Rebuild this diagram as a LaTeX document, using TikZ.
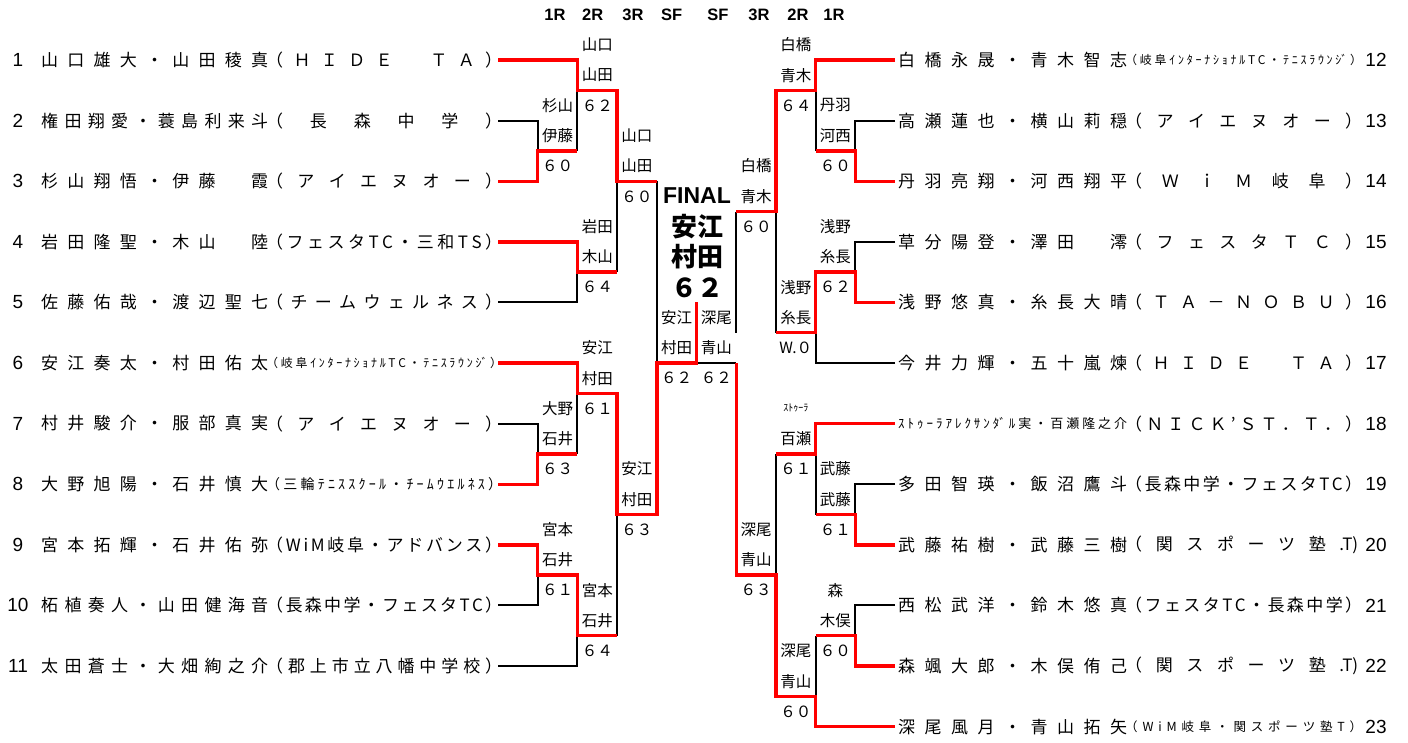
\documentclass[tikz,border=0pt]{standalone}
\usepackage{fontspec}
\setmainfont{Liberation Sans}
\newfontfamily\jp{Noto Sans CJK JP}
\makeatletter
\def\sp@loop#1{\ifx\relax#1\else\hfill#1\expandafter\sp@loop\fi}
\def\sp@first#1{#1\sp@loop}
\newcommand\spreadbox[2]{\hbox to #1{\sp@first#2\relax}}
\makeatother
\def\colA{498}\def\colB{537.7}\def\colC{577.4}\def\colD{617.1}\def\colE{656.8}
\def\colF{696.5}\def\colG{736.2}\def\colH{775.9}\def\colI{815.6}\def\colJ{855.3}\def\colK{895}
\newcommand\mlab[6]{%
  \node[lbl] (#1a) at (#2,#3-1.5) {#4};
  \node[lbl] (#1b) at (#2,#3-0.5) {#5};
  \node[lbl] (#1c) at (#2,#3+0.5) {#6};}
\newcommand\lrow[5]{%
  \node[numtxt] (num#1) at (18,#2) {#3};
  \node[nm] (nm#1) at (41,#2) {\spreadbox{227pt}{#4}};
  \node[nm] (cl#1) at (266,#2) {#5};}
\newcommand\rrow[5]{%
  \node[numtxt] (num#1) at (1376,#2) {#3};
  \node[nm] (nm#1) at (898,#2) {\spreadbox{229pt}{#4}};
  \node[nm] (cl#1) at (1125,#2) {#5};}
\begin{document}
\begin{tikzpicture}[x=1pt,y=-30.3pt,
  wl/.style={line width=2pt,black},
  rl/.style={line width=3.4pt,red},
  nm/.style={anchor=west,inner sep=0pt,font=\jp\fontsize{17}{18}\selectfont},
  lbl/.style={inner sep=0pt,font=\jp\fontsize{15.5}{17}\selectfont},
  numtxt/.style={inner sep=0pt,font=\fontsize{19}{20}\selectfont},
  hdr/.style={inner sep=0pt,font=\bfseries\fontsize{16.5}{17}\selectfont},
  fin/.style={inner sep=0pt,font=\bfseries\fontsize{23}{24}\selectfont},
  finj/.style={inner sep=0pt,font=\jp\bfseries\fontsize{26}{28}\selectfont}]
\useasboundingbox (0,-1.9802) rectangle (1408,22.5083);
% headers
\node[hdr] (h1) at (555,-1.485) {1R};
\node[hdr] (h2) at (592.7,-1.485) {2R};
\node[hdr] (h3) at (633,-1.485) {3R};
\node[hdr] (h4) at (671.7,-1.485) {SF};
\node[hdr] (h5) at (718,-1.485) {SF};
\node[hdr] (h6) at (759,-1.485) {3R};
\node[hdr] (h7) at (798,-1.485) {2R};
\node[hdr] (h8) at (834,-1.485) {1R};
% final
\node[fin] (fn) at (697,4.49) {FINAL};
\node[finj] (fa) at (697,5.5) {安江};
\node[finj] (fb) at (697,6.5) {村田};
\node[finj] (fc) at (697,7.52) {６２};
% black lines
\draw[wl] (\colA,2) -| (\colB,3);
\draw[wl] (\colA,8) -| (\colC,7);
\draw[wl] (\colA,12) -| (\colB,13);
\draw[wl] (\colA,18) -| (\colB,17);
\draw[wl] (\colA,20) -| (\colC,19);
\draw[wl] (\colC,3) -- (\colC,1);
\draw[wl] (\colD,7) -- (\colD,4);
\draw[wl] (\colC,13) -- (\colC,11);
\draw[wl] (\colD,19) -- (\colD,15);
\draw[wl] (\colE,4) -- (\colE,10);
\draw[wl] (\colK,2) -| (\colJ,3);
\draw[wl] (\colI,3) -- (\colI,1);
\draw[wl] (\colK,6) -| (\colJ,7);
\draw[wl] (\colK,10) -| (\colI,9);
\draw[wl] (\colH,9) -- (\colH,5);
\draw[wl] (\colG,5) -- (\colG,9);
\draw[wl] (\colG,10) -- (\colF,10);
\draw[wl] (\colK,14) -| (\colJ,15);
\draw[wl] (\colI,15) -- (\colI,13);
\draw[wl] (\colH,13) -- (\colH,17);
\draw[wl] (\colK,18) -| (\colJ,19);
\draw[wl] (\colI,19) -- (\colI,21);
% red lines
\draw[rl] (\colA,0) -| (\colC,1) -| (\colD,4) -- (\colE,4);
\draw[rl] (\colA,4) -| (\colB,3) -- (\colC,3);
\draw[rl] (\colA,6) -| (\colC,7) -- (\colD,7);
\draw[rl] (\colA,10) -| (\colC,11) -| (\colD,15) -| (\colE,10) -| (\colF,8);
\draw[rl] (\colA,14) -| (\colB,13) -- (\colC,13);
\draw[rl] (\colA,16) -| (\colB,17) -| (\colC,19) -- (\colD,19);
\draw[rl] (\colK,0) -| (\colI,1) -| (\colH,5) -- (\colG,5);
\draw[rl] (\colK,4) -| (\colJ,3) -- (\colI,3);
\draw[rl] (\colK,8) -| (\colJ,7) -| (\colI,9) -- (\colH,9);
\draw[rl] (\colK,12) -| (\colI,13) -- (\colH,13);
\draw[rl] (\colK,16) -| (\colJ,15) -- (\colI,15);
\draw[rl] (\colK,20) -| (\colJ,19) -- (\colI,19);
\draw[rl] (\colK,22) -| (\colI,21) -| (\colH,17) -| (\colG,10);
% match labels
\mlab{A}{557.55}{3}{杉山}{伊藤}{６０}
\mlab{B}{597.25}{1}{山口}{山田}{６２}
\mlab{C}{597.25}{7}{岩田}{木山}{６４}
\mlab{D}{636.95}{4}{山口}{山田}{６０}
\mlab{E}{557.55}{13}{大野}{石井}{６３}
\mlab{F}{597.25}{11}{安江}{村田}{６１}
\mlab{G}{557.55}{17}{宮本}{石井}{６１}
\mlab{H}{597.25}{19}{宮本}{石井}{６４}
\mlab{I}{636.95}{15}{安江}{村田}{６３}
\mlab{J}{676.65}{10}{安江}{村田}{６２}
\mlab{K}{795.75}{1}{白橋}{青木}{６４}
\mlab{L}{835.45}{3}{丹羽}{河西}{６０}
\mlab{M}{835.45}{7}{浅野}{糸長}{６２}
\mlab{N}{795.75}{9}{浅野}{糸長}{W.０}
\mlab{O}{756.05}{5}{白橋}{青木}{６０}
\mlab{P}{716.35}{10}{深尾}{青山}{６２}
\mlab{Q}{795.75}{13}{{\fontsize{10}{11}\selectfont ｽﾄｩｰﾗ}}{百瀬}{６１}
\mlab{R}{835.45}{15}{武藤}{武藤}{６１}
\mlab{S}{835.45}{19}{森}{木俣}{６０}
\mlab{T}{795.75}{21}{深尾}{青山}{６０}
\mlab{U}{756.05}{17}{深尾}{青山}{６３}
% left players
\lrow{1}{0}{1}{山口雄大・山田稜真}{\spreadbox{236pt}{（ＨＩＤＥ　ＴＡ）}}
\lrow{2}{2}{2}{権田翔愛・蓑島利来斗}{\spreadbox{236pt}{（　長　森　中　学　）}}
\lrow{3}{4}{3}{杉山翔悟・伊藤　霞}{\spreadbox{236pt}{（アイエヌオー）}}
\lrow{4}{6}{4}{岩田隆聖・木山　陸}{\spreadbox{236pt}{（フェスタTC・三和TS）}}
\lrow{5}{8}{5}{佐藤佑哉・渡辺聖七}{\spreadbox{236pt}{（チームウェルネス）}}
\lrow{6}{10}{6}{安江奏太・村田佑太}{\fontsize{12}{13}\selectfont\spreadbox{236pt}{（岐阜ｲﾝﾀｰﾅｼｮﾅﾙTC・ﾃﾆｽﾗｳﾝ{ｼﾞ}）}}
\lrow{7}{12}{7}{村井駿介・服部真実}{\spreadbox{236pt}{（アイエヌオー）}}
\lrow{8}{14}{8}{大野旭陽・石井慎大}{\fontsize{14}{15}\selectfont\spreadbox{236pt}{（三輪ﾃﾆｽｽｸｰﾙ・ﾁｰﾑｳｴﾙﾈｽ）}}
\lrow{9}{16}{9}{宮本拓輝・石井佑弥}{\spreadbox{236pt}{（WiM岐阜・アドバンス）}}
\lrow{10}{18}{10}{柘植奏人・山田健海音}{\spreadbox{236pt}{（長森中学・フェスタTC）}}
\lrow{11}{20}{11}{太田蒼士・大畑絢之介}{\spreadbox{236pt}{（郡上市立八幡中学校）}}
% right players
\rrow{12}{0}{12}{白橋永晟・青木智志}{\fontsize{12}{13}\selectfont\spreadbox{237pt}{（岐阜ｲﾝﾀｰﾅｼｮﾅﾙTC・ﾃﾆｽﾗｳﾝ{ｼﾞ}）}}
\rrow{13}{2}{13}{高瀬蓮也・横山莉穏}{\spreadbox{237pt}{（アイエヌオー）}}
\rrow{14}{4}{14}{丹羽亮翔・河西翔平}{\spreadbox{237pt}{（ＷｉＭ岐阜）}}
\rrow{15}{6}{15}{草分陽登・澤田　澪}{\spreadbox{237pt}{（フェスタＴＣ）}}
\rrow{16}{8}{16}{浅野悠真・糸長大晴}{\spreadbox{237pt}{（ＴＡ－ＮＯＢＵ）}}
\rrow{17}{10}{17}{今井力輝・五十嵐煉}{\spreadbox{237pt}{（ＨＩＤＥ　ＴＡ）}}
\node[numtxt] (num18) at (1376,12) {18};
\node[nm] (nm18) at (898,12) {\fontsize{13}{14}\selectfont\spreadbox{229pt}{ｽﾄｩｰﾗｱﾚｸｻﾝ{ﾀﾞ}ﾙ実・百瀬隆之介}};
\node[nm] (cl18) at (1125,12) {\spreadbox{237pt}{（ＮＩＣＫ’ＳＴ．Ｔ．）}};
\rrow{19}{14}{19}{多田智瑛・飯沼鷹斗}{\spreadbox{237pt}{（長森中学・フェスタTC）}}
\rrow{20}{16}{20}{武藤祐樹・武藤三樹}{\spreadbox{233pt}{（関スポーツ塾{.T)}}}
\rrow{21}{18}{21}{西松武洋・鈴木悠真}{\spreadbox{237pt}{（フェスタTC・長森中学）}}
\rrow{22}{20}{22}{森颯大郎・木俣侑己}{\spreadbox{233pt}{（関スポーツ塾{.T)}}}
\rrow{23}{22}{23}{深尾風月・青山拓矢}{\fontsize{12.5}{13}\selectfont\spreadbox{237pt}{（WiM岐阜・関スポーツ塾T）}}
\end{tikzpicture}
\end{document}
